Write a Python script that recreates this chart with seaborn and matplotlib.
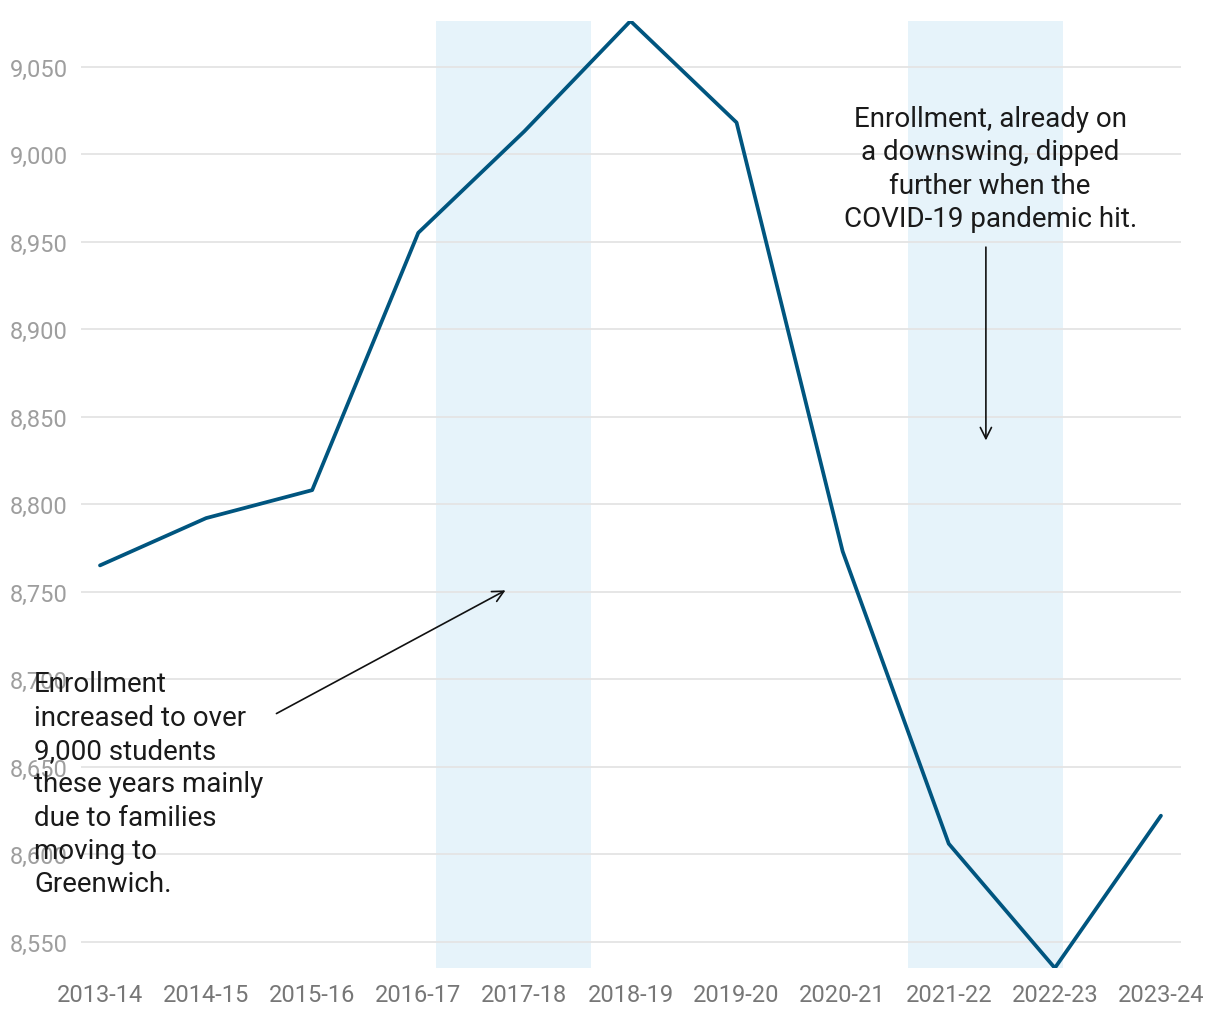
import numpy as np
import matplotlib.pyplot as plt
import seaborn as sns
import pandas as pd

# enrollment by school year
years = ['2013-14', '2014-15', '2015-16', '2016-17', '2017-18', '2018-19',
         '2019-20', '2020-21', '2021-22', '2022-23', '2023-24']
enrollment = [8765, 8792, 8808, 8955, 9013, 9076, 9018, 8773, 8606, 8535, 8622]
y_ticks = [8550, 8600, 8650, 8700, 8750, 8800, 8850, 8900, 8950, 9000, 9050]

# highlighted periods (in category index units)
bands = [(3.17, 4.63), (7.615, 9.075)]

note_growth = ("Enrollment\nincreased to over\n9,000 students\nthese years mainly\n"
               "due to families\nmoving to\nGreenwich.")
note_covid = ("Enrollment, already on\na downswing, dipped\nfurther when the\n"
              "COVID-19 pandemic hit.")

sns.set_theme(style='white')
plt.rcParams['font.family'] = ['Roboto', 'DejaVu Sans']

df = pd.DataFrame({'pos': np.arange(len(years)), 'enrollment': enrollment})

fig = plt.figure(figsize=(12.2, 10.2), dpi=100)
ax = fig.add_axes([81 / 1220, 51 / 1020, 1100 / 1220, 947 / 1020])

for x0, x1 in bands:
    ax.axvspan(x0, x1, color='#e6f3fa', lw=0, zorder=0)

for t in y_ticks:
    ax.axhline(t, color='#e4e4e4', lw=1.3, zorder=1)

sns.lineplot(data=df, x='pos', y='enrollment', color='#00557f', lw=2.7,
             ax=ax, zorder=3)

ax.set_xlim(-0.179, 10.189)
ax.set_ylim(min(enrollment), max(enrollment))
ax.set_xticks(df['pos'])
ax.set_xticklabels(years)
ax.set_yticks(y_ticks)
ax.set_yticklabels([f'{v:,}' for v in y_ticks])
ax.tick_params(axis='x', colors='#777777', labelsize=17, length=0, pad=11)
ax.tick_params(axis='y', colors='#9e9e9e', labelsize=17, length=0, pad=9.5)
ax.set_xlabel('')
ax.set_ylabel('')
sns.despine(ax=ax, left=True, bottom=True)

ax.annotate('', xy=(3.845, 8751.5), xytext=(1.64, 8679.6),
            arrowprops=dict(arrowstyle='->', color='#111111', lw=1.2,
                            mutation_scale=20), zorder=4)
ax.annotate('', xy=(8.35, 8834.8), xytext=(8.35, 8948.4),
            arrowprops=dict(arrowstyle='->', color='#111111', lw=1.2,
                            mutation_scale=20), zorder=4)

ax.text(-0.622, 8705, note_growth, ha='left', va='top', fontsize=20,
        linespacing=1.3, color='#1a1a1a', zorder=5, clip_on=False)
ax.text(8.39, 9028, note_covid, ha='center', va='top', fontsize=20,
        linespacing=1.3, color='#1a1a1a', zorder=5)

plt.savefig('out.png', dpi=100)
plt.close()
